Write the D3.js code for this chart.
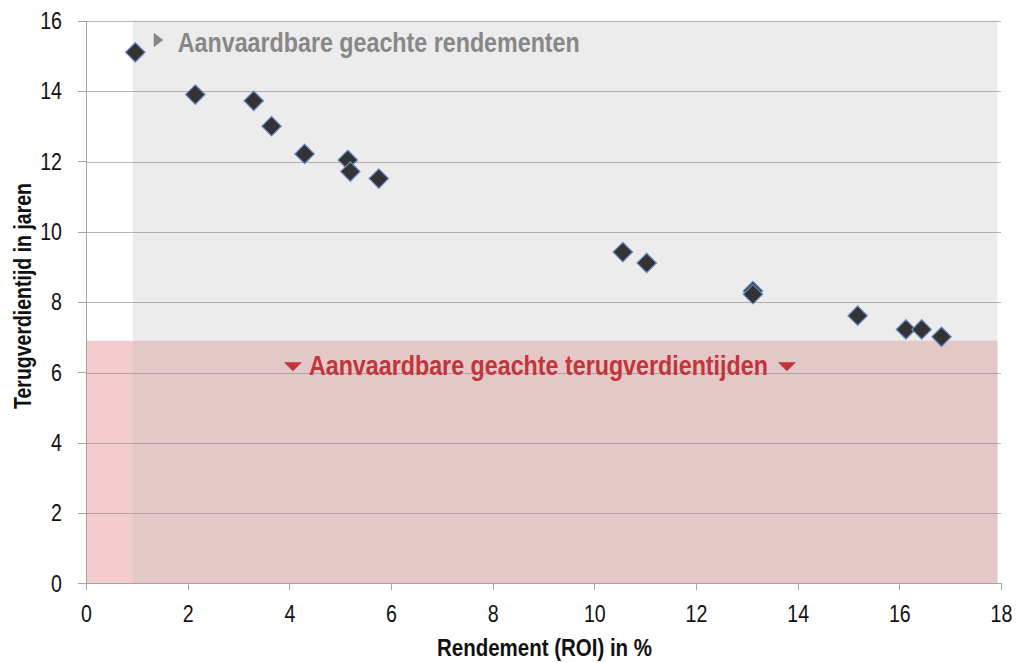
<!DOCTYPE html>
<html lang="nl">
<head>
  <meta charset="utf-8">
  <script src="https://d3js.org/d3.v7.min.js"></script>
  <title>Rendement vs terugverdientijd</title>
<style>
  body { margin: 0; background: #fff; }
  svg text { font-family: "Liberation Sans", Arial, sans-serif; }
  .axis path, .axis line { stroke: #a3a3a3; shape-rendering: crispEdges; }
  .axis text { font-size: 24.5px; fill: #111; }
  .grid line { stroke: #8f8f8f; stroke-opacity: 0.65; shape-rendering: crispEdges; }
  .title { font-size: 24px; font-weight: bold; fill: #111; }
</style>
</head>
<body>
<svg width="1017" height="663" id="chart"></svg>
<script>
// ROI (%) and payback time (years)
var roi   = [0.97, 2.15, 3.30, 3.65, 4.30, 5.15, 5.20, 5.76, 10.56, 11.03, 13.12, 13.12, 15.18, 16.13, 16.44, 16.83];
var years = [15.1, 13.9, 13.72, 13.0, 12.21, 12.04, 11.71, 11.51, 9.42, 9.11, 8.31, 8.22, 7.61, 7.22, 7.22, 7.01];

var xTicks = [0, 2, 4, 6, 8, 10, 12, 14, 16, 18];
var yTicks = [0, 2, 4, 6, 8, 10, 12, 14, 16];

// shaded zones: acceptable ROI and acceptable payback time
var roiZone = [0.92, 17.93];
var paybackZone = [0, 6.9];
var zoneRight = 17.93;

var svg = d3.select("#chart");
var margin = {top: 20.7, right: 16, bottom: 79.7, left: 86};
var width = 1017 - margin.left - margin.right;
var height = 663 - margin.top - margin.bottom;

var g = svg.append("g").attr("transform", "translate(" + margin.left + "," + margin.top + ")");

var x = d3.scaleLinear().domain([0, 18]).range([0, width]);
var y = d3.scaleLinear().domain([0, 16]).range([height, 0]);

// squeeze text horizontally (no narrow font available)
function narrow(sel, k) {
  sel.each(function() {
    var w = this.getComputedTextLength();
    d3.select(this).attr("textLength", w * k).attr("lengthAdjust", "spacingAndGlyphs");
  });
}
function fitWidth(sel, w) {
  sel.attr("textLength", w).attr("lengthAdjust", "spacingAndGlyphs");
}

// pink zone
g.append("rect")
  .attr("x", x(0))
  .attr("y", y(paybackZone[1]))
  .attr("width", x(zoneRight) - x(0))
  .attr("height", y(paybackZone[0]) - y(paybackZone[1]))
  .attr("fill", "#f4cccd");

// grey zone on top, semi transparent
g.append("rect")
  .attr("x", x(roiZone[0]))
  .attr("y", y(16))
  .attr("width", x(roiZone[1]) - x(roiZone[0]))
  .attr("height", y(0) - y(16))
  .attr("fill", "#b9b9b9")
  .attr("fill-opacity", 0.27);

// gridlines
g.append("g")
  .attr("class", "grid")
  .selectAll("line")
  .data(yTicks.filter(function(d) { return d > 0; }))
  .enter().append("line")
    .attr("x1", 0)
    .attr("x2", width)
    .attr("y1", function(d) { return Math.round(y(d)) + 0.5; })
    .attr("y2", function(d) { return Math.round(y(d)) + 0.5; });

// axes
var xAxis = g.append("g")
  .attr("class", "axis axis--x")
  .attr("transform", "translate(0," + height + ")")
  .call(d3.axisBottom(x).tickValues(xTicks).tickSize(7).tickPadding(14.5).tickSizeOuter(7));

var yAxis = g.append("g")
  .attr("class", "axis axis--y")
  .call(d3.axisLeft(y).tickValues(yTicks).tickSize(8).tickPadding(16).tickSizeOuter(0));

g.selectAll(".axis .domain").attr("stroke", "#a3a3a3");
narrow(xAxis.selectAll("text"), 0.8);
narrow(yAxis.selectAll("text"), 0.8);

// markers
var diamond = d3.symbol().type(d3.symbolSquare).size(190);
g.selectAll(".pt")
  .data(roi.map(function(r, i) { return [r, years[i]]; }))
  .enter().append("path")
    .attr("class", "pt")
    .attr("d", diamond)
    .attr("transform", function(d) { return "translate(" + x(d[0]) + "," + y(d[1]) + ") rotate(45)"; })
    .attr("fill", "#333333")
    .attr("stroke", "#6b8fc4")
    .attr("stroke-width", 1.2);

// annotations
var grayNote = g.append("g").attr("transform", "translate(" + (x(roiZone[0]) + 21) + "," + (y(16) + 31.6) + ")");
grayNote.append("path")
  .attr("d", "M0,-19.6 L9.4,-12.3 L0,-5 Z")
  .attr("fill", "#878787");
grayNote.append("text")
  .attr("x", 24)
  .attr("font-size", "28.5px")
  .attr("font-weight", "bold")
  .attr("fill", "#878787")
  .text("Aanvaardbare geachte rendementen")
  .call(fitWidth, 402);

var noteY = y(paybackZone[1]) + 34;
var redNote = g.append("text")
  .attr("x", x(8.9))
  .attr("y", noteY)
  .attr("text-anchor", "middle")
  .attr("font-size", "28.5px")
  .attr("font-weight", "bold")
  .attr("fill", "#c1353b")
  .text("Aanvaardbare geachte terugverdientijden")
  .call(fitWidth, 459);

var half = 459 / 2;
[x(8.9) - half - 25, x(8.9) + half + 10].forEach(function(px) {
  g.append("path")
    .attr("d", "M" + px + "," + (noteY - 12.5) + " l18,0 l-9,9 Z")
    .attr("fill", "#c1353b");
});

// axis titles
svg.append("text")
  .attr("class", "title")
  .attr("transform", "translate(31," + 296 + ") rotate(-90)")
  .attr("text-anchor", "middle")
  .text("Terugverdientijd in jaren")
  .call(fitWidth, 226);

svg.append("text")
  .attr("class", "title")
  .attr("x", 544.5)
  .attr("y", 656)
  .attr("text-anchor", "middle")
  .text("Rendement (ROI) in %")
  .call(fitWidth, 215);
</script>
</body>
</html>
